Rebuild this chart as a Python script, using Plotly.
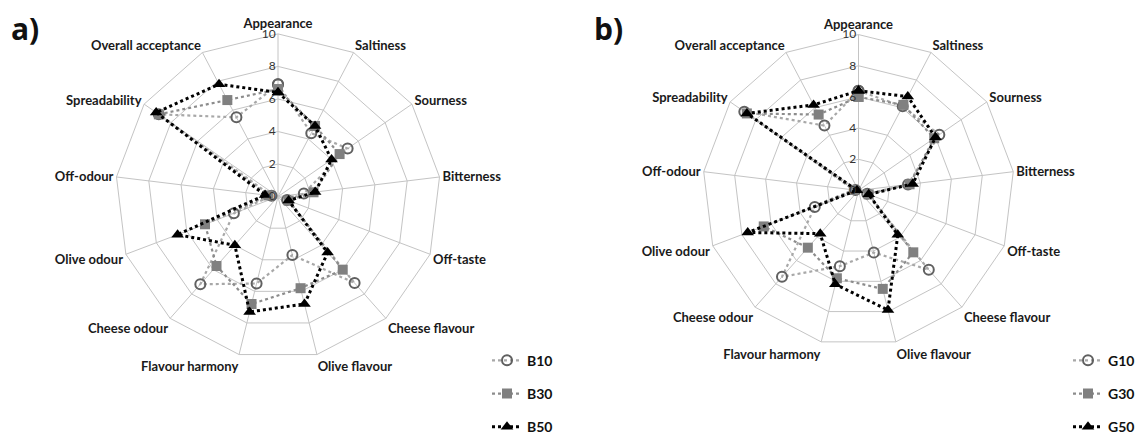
import plotly.graph_objects as go

categories = ["Appearance", "Saltiness", "Sourness", "Bitterness", "Off-taste",
              "Cheese flavour", "Olive flavour", "Flavour harmony", "Cheese odour",
              "Olive odour", "Off-odour", "Spreadability", "Overall acceptance"]

B10 = [6.9, 4.4, 5.2, 1.6, 0.6, 7.1, 3.7, 5.5, 7.2, 2.9, 0.4, 8.9, 5.5]
B30 = [6.6, 4.9, 4.6, 2.2, 0.7, 6.0, 5.8, 6.8, 5.7, 4.8, 0.6, 8.9, 6.7]
B50 = [6.4, 4.9, 4.0, 2.3, 0.7, 4.6, 6.8, 7.3, 4.0, 6.6, 0.8, 9.1, 7.8]

G10 = [6.4, 6.1, 6.3, 3.2, 0.6, 6.8, 4.1, 5.0, 7.4, 3.0, 0.2, 8.9, 4.7]
G30 = [6.0, 6.2, 5.9, 3.3, 0.7, 5.3, 6.5, 5.8, 4.9, 6.5, 0.3, 8.7, 5.5]
G50 = [6.4, 6.8, 6.0, 3.5, 0.7, 3.8, 7.9, 6.2, 3.7, 7.6, 0.1, 8.7, 6.2]

radial_ticks = [0, 2, 4, 6, 8, 10]

styles = [
    dict(line=dict(color="#a8a8a8", width=2.2, dash="dot"),
         marker=dict(symbol="circle-open", size=10, color="#606060", line=dict(width=2))),
    dict(line=dict(color="#8c8c8c", width=2.2, dash="dot"),
         marker=dict(symbol="square", size=10, color="#808080")),
    dict(line=dict(color="#000000", width=3, dash="dot"),
         marker=dict(symbol="triangle-up", size=11, color="#000000")),
]

fig = go.Figure()

def closed(v):
    return list(v) + [v[0]]

theta = closed(categories)

for i, (name, vals) in enumerate(zip(["B10", "B30", "B50"], [B10, B30, B50])):
    fig.add_trace(go.Scatterpolar(r=closed(vals), theta=theta, name=name, mode="lines+markers",
                                  subplot="polar", legend="legend", legendgroup=name,
                                  **styles[i]))
for i, (name, vals) in enumerate(zip(["G10", "G30", "G50"], [G10, G30, G50])):
    fig.add_trace(go.Scatterpolar(r=closed(vals), theta=theta, name=name, mode="lines+markers",
                                  subplot="polar2", legend="legend2", legendgroup=name,
                                  **styles[i]))

W, H = 1143, 443

def dom(cx, cy, R):
    return dict(x=[(cx - R) / W, (cx + R) / W], y=[(H - cy - R) / H, (H - cy + R) / H])

grid = "#c4c4c4"
tickfont = dict(family="Lato", size=13, color="#1a1a1a", weight="bold")

def polar_cfg(d):
    return dict(
        domain=d,
        bgcolor="white",
        gridshape="linear",
        radialaxis=dict(range=[0, 10], tickvals=radial_ticks, showline=False,
                        gridcolor=grid, gridwidth=1, angle=90, tickangle=90,
                        side="counterclockwise", ticks="",
                        tickfont=dict(family="Lato", size=12, color="#333333")),
        angularaxis=dict(direction="clockwise", rotation=90, gridcolor=grid, gridwidth=1,
                         linecolor=grid, linewidth=1, showline=True, ticks="",
                         tickfont=tickfont),
    )

legend_common = dict(font=dict(family="Lato", size=14, color="#111111", weight="bold"),
                     tracegroupgap=12, itemwidth=30, bgcolor="rgba(0,0,0,0)",
                     xanchor="left", yanchor="top")

fig.update_layout(
    width=W, height=H,
    margin=dict(l=0, r=0, t=0, b=0),
    paper_bgcolor="white",
    polar=polar_cfg(dom(278, 203, 168)),
    polar2=polar_cfg(dom(858.5, 196.7, 161)),
    legend=dict(x=487 / W, y=1 - 356 / H, **legend_common),
    legend2=dict(x=1068 / W, y=1 - 356 / H, **legend_common),
    annotations=[
        dict(text="a)", x=9 / W, y=1 - 6 / H, xref="paper", yref="paper",
             xanchor="left", yanchor="top", showarrow=False,
             font=dict(family="Open Sans", size=30, color="#111111", weight="bold")),
        dict(text="b)", x=592 / W, y=1 - 6 / H, xref="paper", yref="paper",
             xanchor="left", yanchor="top", showarrow=False,
             font=dict(family="Open Sans", size=30, color="#111111", weight="bold")),
    ],
)

fig.write_html("out.html",
               config={"displayModeBar": False},
               post_script="document.body.style.margin='0';document.body.style.overflow='hidden';")
